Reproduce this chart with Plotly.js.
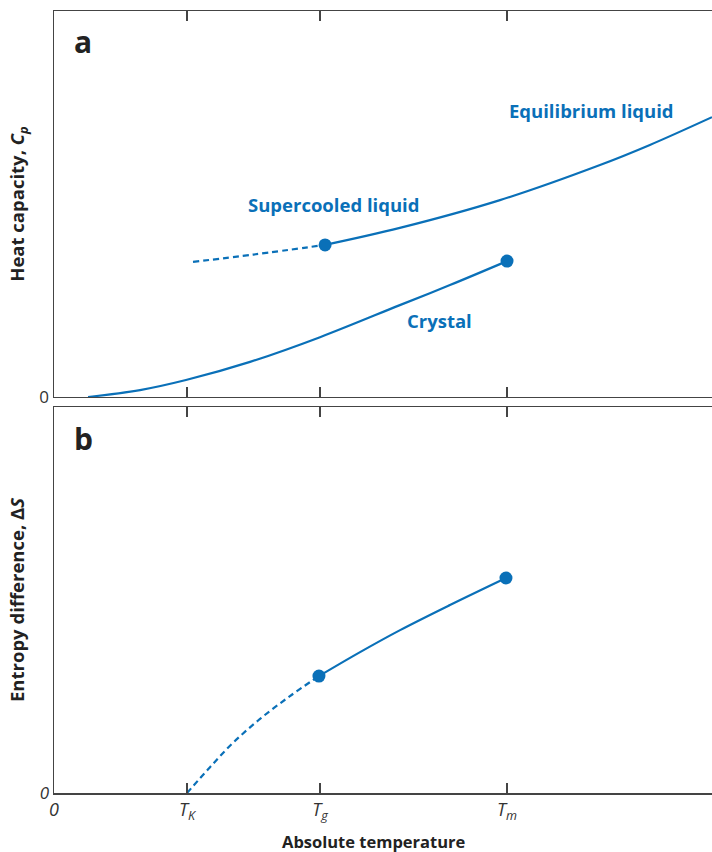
<!DOCTYPE html>
<html>
<head>
<meta charset="utf-8">
<script src="https://cdn.plot.ly/plotly-3.0.1.min.js"></script>
<style>html,body{margin:0;padding:0;background:#fff;}</style>
</head>
<body>
<div id="chart" style="width:712px;height:852px;"></div>
<script>
// Temperature axis (arbitrary units): 0, T_K, T_g, T_m
const tickVals = [0, 100, 200, 340.6];
const tickText = ['<i>0</i>', '<i>T</i><sub><i>K</i></sub>', '<i>T</i><sub><i>g</i></sub>', '<i>T</i><sub><i>m</i></sub>'];

// Panel a: heat capacity
const crystalT  = [25.6, 64.7, 99.2, 147.4, 200.0, 260.0, 297.7, 340.6];
const crystalCp = [0.00, 0.18, 0.44, 0.91, 1.55, 2.38, 2.90, 3.52];

const supercooledT  = [104.5, 150.0, 203.8];
const supercooledCp = [3.50, 3.69, 3.94];

const liquidT  = [203.8, 260.0, 335.3, 410.5, 448.0, 494.7];
const liquidCp = [3.94, 4.38, 5.10, 6.01, 6.53, 7.25];

const markerACp = { T: [203.8, 340.6], Cp: [3.94, 3.52] };

// Panel b: entropy difference
const dashS_T = [100.0, 117.3, 134.6, 154.9, 177.4, 199.2];
const dashS   = [0.00, 0.67, 1.30, 1.92, 2.51, 3.03];

const solidS_T = [199.2, 230.1, 260.2, 297.7, 339.8];
const solidS   = [3.03, 3.65, 4.22, 4.87, 5.57];

const markerB = { T: [199.2, 339.8], S: [3.03, 5.57] };

const blue = '#0a70b8';
const axisCol = '#444';
const font = 'Open Sans, Noto Sans, sans-serif';

const traces = [
  {x: crystalT, y: crystalCp, xaxis: 'x2', yaxis: 'y2', mode: 'lines', line: {color: blue, width: 2.2, shape: 'spline'}},
  {x: supercooledT, y: supercooledCp, xaxis: 'x2', yaxis: 'y2', mode: 'lines', line: {color: blue, width: 2.2, dash: '6px,4px', shape: 'spline'}},
  {x: liquidT, y: liquidCp, xaxis: 'x2', yaxis: 'y2', mode: 'lines', line: {color: blue, width: 2.2, shape: 'spline'}},
  {x: markerACp.T, y: markerACp.Cp, xaxis: 'x2', yaxis: 'y2', mode: 'markers', marker: {color: blue, size: 13}},
  {x: dashS_T, y: dashS, xaxis: 'x', yaxis: 'y', mode: 'lines', line: {color: blue, width: 2.2, dash: '6px,4px', shape: 'spline'}},
  {x: solidS_T, y: solidS, xaxis: 'x', yaxis: 'y', mode: 'lines', line: {color: blue, width: 2.2, shape: 'spline'}},
  {x: markerB.T, y: markerB.S, xaxis: 'x', yaxis: 'y', mode: 'markers', marker: {color: blue, size: 13}}
];

const xCommon = {
  range: [0, 494.7], showgrid: false, zeroline: false,
  showline: true, linecolor: axisCol, linewidth: 1.5,
  mirror: 'ticks', ticks: 'inside', ticklen: 10, tickwidth: 1.5, tickcolor: axisCol,
  tickvals: tickVals, ticktext: tickText
};
const yCommon = {
  range: [0, 10], showgrid: false, zeroline: false,
  showline: true, linecolor: axisCol, linewidth: 1.5,
  ticks: '', tickvals: [0],
  tickfont: {family: font, size: 17, color: '#333'}
};

const layout = {
  width: 712, height: 852,
  margin: {l: 54, r: 0, t: 11, b: 59},
  paper_bgcolor: '#fff', plot_bgcolor: '#fff',
  showlegend: false,
  font: {family: font, color: '#222'},
  xaxis: Object.assign({}, xCommon, {
    anchor: 'y', showticklabels: true,
    tickfont: {family: font, size: 18, color: '#333'}
  }),
  xaxis2: Object.assign({}, xCommon, {anchor: 'y2', matches: 'x', showticklabels: false}),
  yaxis: Object.assign({}, yCommon, {
    domain: [0, 0.4936], ticktext: ['<i>0</i>'],
    title: {text: '<b>Entropy difference, Δ<i>S</i></b>', font: {family: font, size: 18.5, color: '#222'}, standoff: 10}
  }),
  yaxis2: Object.assign({}, yCommon, {
    domain: [0.5064, 1], ticktext: ['0'],
    title: {text: '<b>Heat capacity, <i>C<sub>p</sub></i></b>', font: {family: font, size: 18.5, color: '#222'}, standoff: 10}
  }),
  annotations: [
    {text: '<b>Absolute temperature</b>', xref: 'paper', yref: 'paper', x: (373.5 - 54) / 658, y: 1 - (842 - 11) / 782, yanchor: 'middle', showarrow: false, font: {family: font, size: 16.5, color: '#222'}},
    {text: '<b>a</b>', xref: 'paper', yref: 'paper', x: 0.027, y: 0.9604, xanchor: 'left', yanchor: 'middle', showarrow: false, font: {family: font, size: 30, color: '#222'}},
    {text: '<b>b</b>', xref: 'paper', yref: 'paper', x: 0.027, y: 0.4527, xanchor: 'left', yanchor: 'middle', showarrow: false, font: {family: font, size: 30, color: '#222'}},
    {text: '<b>Equilibrium liquid</b>', xref: 'x2', yref: 'y2', x: 404, y: 7.43, showarrow: false, font: {family: font, size: 18.5, color: blue}},
    {text: '<b>Supercooled liquid</b>', xref: 'x2', yref: 'y2', x: 210.5, y: 4.99, showarrow: false, font: {family: font, size: 18.5, color: blue}},
    {text: '<b>Crystal</b>', xref: 'x2', yref: 'y2', x: 290, y: 1.97, showarrow: false, font: {family: font, size: 18.5, color: blue}}
  ]
};

Plotly.newPlot('chart', traces, layout, {displayModeBar: false, staticPlot: true});
</script>
</body>
</html>
